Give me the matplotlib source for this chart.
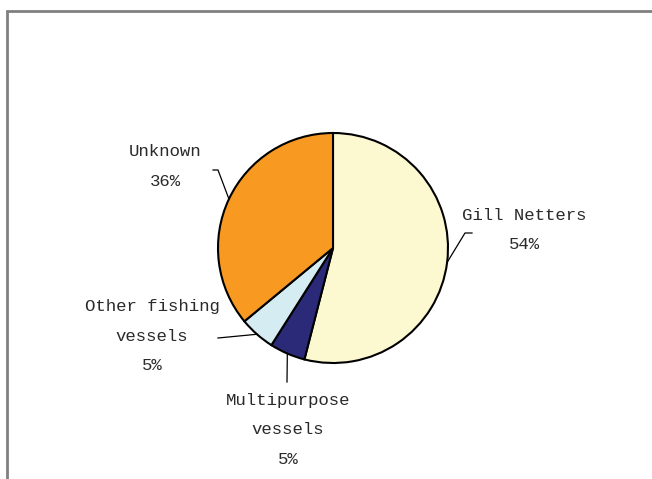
import numpy as np
import matplotlib.pyplot as plt

# vessel categories and their share of the total (%)
categories = ['Gill Netters', 'Multipurpose\nvessels', 'Other fishing\nvessels', 'Unknown']
shares = [54, 5, 5, 36]
colors = ['#FCF8CF', '#2B2A78', '#D5ECF2', '#F89A22']

W, H = 652, 479
CX, CY, R = 333, 248, 115   # pie centre / radius in pixels (from the top)

# label anchor (pixel x, y of first line) and leader-line points beyond the slice edge
label_pos = [(524, 215), (288, 400), (152, 307), (165, 152)]
leaders = [[(465, 233), (472, 233)], [(287, 382)], [(218, 338)], [(218, 170), (213, 170)]]

fig = plt.figure(figsize=(W / 100, H / 100), dpi=100)
ax = fig.add_axes([0, 0, 1, 1])

# pie drawn in a flipped-y space: counterclock=True appears clockwise
wedges, _ = ax.pie(shares, colors=colors, startangle=-90, counterclock=True,
                   center=(CX, CY), radius=R, frame=True,
                   wedgeprops=dict(edgecolor='black', linewidth=1.5))
ax.set_xlim(0, W)
ax.set_ylim(H, 0)
ax.set_aspect('equal')
ax.axis('off')

font = dict(family=['Liberation Mono', 'DejaVu Sans Mono'], fontsize=12.5, color='#2a2a2a')
for w, cat, val, (lx, ly), pts in zip(wedges, categories, shares, label_pos, leaders):
    ang = np.deg2rad((w.theta1 + w.theta2) / 2)
    ex, ey = CX + R * np.cos(ang), CY + R * np.sin(ang)
    lines = cat.split('\n') + [f'{val}%']
    for i, t in enumerate(lines):
        ax.text(lx, ly + i * 29.5, t, ha='center', va='center', **font)
    xs = [ex] + [p[0] for p in pts]
    ys = [ey] + [p[1] for p in pts]
    ax.plot(xs, ys, color='black', lw=0.9)

# chart-area border (top and left edges visible)
ax.plot([7, 7, W], [H, 11, 11], color='#808080', lw=2, solid_joinstyle='miter')

fig.savefig('out.png', dpi=100, facecolor='white')
